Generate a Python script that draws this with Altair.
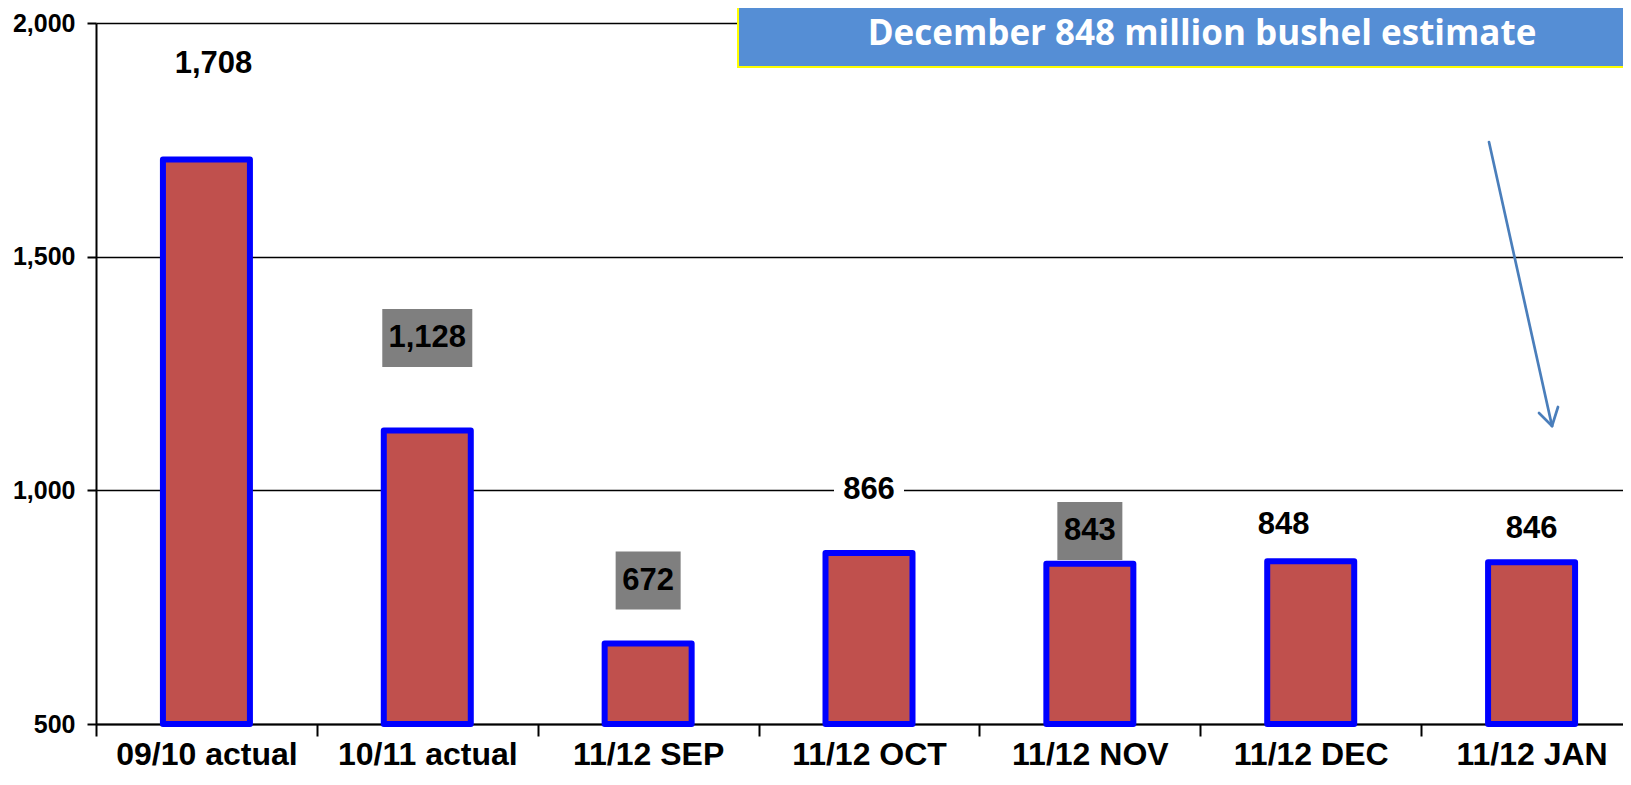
import altair as alt
import pandas as pd

# ---- data ----
categories = ["09/10 actual", "10/11 actual", "11/12 SEP", "11/12 OCT",
              "11/12 NOV", "11/12 DEC", "11/12 JAN"]
values = [1708, 1128, 672, 866, 843, 848, 846]

# ---- label placement (annotation layout, data units / pixels) ----
label_y = [1913, 1326, 807, 1000, 913, 925, 917]
label_dx = [7, 0, 0, 0, 0, -27, 0]
box_fill = ["none", "#7F7F7F", "#7F7F7F", "white", "#7F7F7F", "none", "none"]
box_w = [0, 90, 65, 70, 65, 0, 0]

PX_H = 701           # plot height in px
RANGE_W = 1546       # width covered by the 7 bands (last one runs past the edge)
BAND = RANGE_W / len(categories)
Y_MIN, Y_MAX = 500, 2000
half_box = 29 * (Y_MAX - Y_MIN) / PX_H

df = pd.DataFrame({
    "cat": categories,
    "value": values,
    "label_y": label_y,
    "dx": [d + BAND / 2 for d in label_dx],
    "box_fill": box_fill,
    "box_w": box_w,
})
df["box_lo"] = df["label_y"] - half_box
df["box_hi"] = df["label_y"] + half_box

FONT = "Liberation Sans"

x_enc = alt.X(
    "cat:N", sort=categories, title=None,
    scale=alt.Scale(range=[0, RANGE_W], paddingInner=0, paddingOuter=0),
    axis=alt.Axis(labelAngle=0, labelFont=FONT, labelFontWeight="bold",
                  labelFontSize=32, labelColor="black", labelPadding=3,
                  labelLimit=400, tickBand="extent", tickSize=12,
                  tickColor="black", tickWidth=2, domainColor="black",
                  domainWidth=2, grid=False),
)
y_scale = alt.Scale(domain=[Y_MIN, Y_MAX], nice=False, zero=False)
y_enc = alt.Y(
    "value:Q", scale=y_scale, title=None,
    axis=alt.Axis(values=[500, 1000, 1500, 2000], format=",.0f",
                  labelFont=FONT, labelFontWeight="bold", labelFontSize=25,
                  labelColor="black", labelPadding=12, tickSize=9,
                  tickColor="black", tickWidth=2, domainColor="black",
                  domainWidth=2, grid=True, gridColor="black", gridWidth=1.6),
)

base = alt.Chart(df)

bars = base.mark_bar(size=87, color="#C0504D", stroke="#0000FF",
                     strokeWidth=6, strokeJoin="round").encode(
    x=x_enc, y=y_enc, y2=alt.datum(Y_MIN)
)

boxes = base.transform_filter("datum.box_w > 0").mark_bar().encode(
    x=alt.X("cat:N", sort=categories),
    y=alt.Y("box_lo:Q", scale=y_scale),
    y2="box_hi:Q",
    size=alt.Size("box_w:Q", scale=None, legend=None),
    color=alt.Color("box_fill:N", scale=None, legend=None),
)

labels = base.mark_text(font=FONT, fontWeight="bold", fontSize=31,
                        color="black", baseline="middle", align="center").encode(
    x=alt.X("cat:N", sort=categories),
    xOffset=alt.XOffset("dx:Q", scale=None),
    y=alt.Y("label_y:Q", scale=y_scale),
    text=alt.Text("value:Q", format=",.0f"),
)

one = alt.Chart(pd.DataFrame({"a": [0]}))

note_box = one.mark_rect(fill="#558ED5", stroke="#FFFF00", strokeWidth=2).encode(
    x=alt.value(642), x2=alt.value(1700), y=alt.value(-20), y2=alt.value(44)
)
note_text = one.mark_text(font="Open Sans", fontWeight="bold", fontSize=35,
                          color="white", baseline="middle", align="center").encode(
    x=alt.value(1106), y=alt.value(11),
    text=alt.value("December 848 million bushel estimate"),
)

ARROW = "#4A7EBB"
shaft = one.mark_rule(color=ARROW, strokeWidth=2.7, strokeCap="round").encode(
    x=alt.value(1393), y=alt.value(119), x2=alt.value(1456), y2=alt.value(403)
)
arm1 = one.mark_rule(color=ARROW, strokeWidth=2.7, strokeCap="round").encode(
    x=alt.value(1443), y=alt.value(390), x2=alt.value(1456), y2=alt.value(403)
)
arm2 = one.mark_rule(color=ARROW, strokeWidth=2.7, strokeCap="round").encode(
    x=alt.value(1462), y=alt.value(384), x2=alt.value(1456), y2=alt.value(403)
)

chart = alt.layer(bars, boxes, labels, note_box, note_text, shaft, arm1, arm2).properties(
    width=1527, height=PX_H,
    autosize=alt.AutoSizeParams(type="none"),
    padding={"left": 88, "top": 15, "right": 0, "bottom": 47},
).configure_view(stroke=None).configure(background="white")

chart.save("out.html", embed_options={"renderer": "svg", "actions": False})
